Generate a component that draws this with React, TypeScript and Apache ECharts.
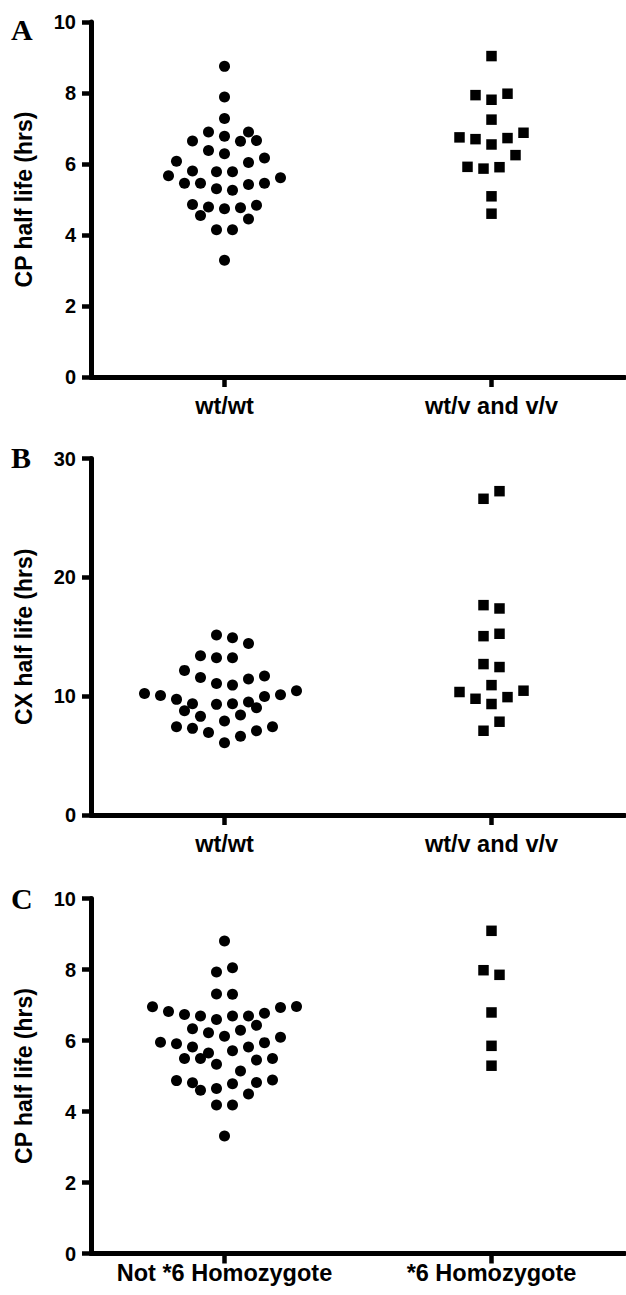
import React, { useEffect, useRef } from "react";
import * as echarts from "echarts";

// ---------- data ----------
const CATS_AB = ["wt/wt", "wt/v and v/v"];
const CATS_C = ["Not *6 Homozygote", "*6 Homozygote"];

// Panel A: CP half life (hrs)
const A_WT = [8.75, 7.89, 7.28, 6.9, 6.9, 6.65, 6.78, 6.64, 6.66, 6.38, 6.29, 6.08, 6.17, 6.04, 5.67, 5.8, 5.78, 5.78, 5.61, 5.46, 5.46, 5.3, 5.26, 5.42, 5.46, 4.86, 4.79, 4.74, 4.77, 4.84, 4.55, 4.45, 4.15, 4.15, 3.29];
const A_WT_SLOT = [0, 0, 0, -2, 3, -4, 0, 2, 4, -2, 0, -6, 5, 3, -7, -4, -1, 1, 7, -5, -3, -1, 1, 3, 5, -4, -2, 0, 2, 4, -3, 3, -1, 1, 0];
const A_V = [9.04, 7.94, 7.81, 7.98, 7.25, 6.75, 6.7, 6.55, 6.73, 6.88, 6.25, 5.92, 5.87, 5.91, 5.09, 4.6];
const A_V_SLOT = [0, -2, 0, 2, 0, -4, -2, 0, 2, 4, 3, -3, -1, 1, 0, 0];

// Panel B: CX half life (hrs)
const B_WT = [15.14, 14.92, 14.44, 13.4, 13.23, 13.23, 12.17, 11.58, 11.07, 10.93, 11.44, 11.69, 10.23, 10.06, 9.73, 9.36, 9.31, 9.36, 9.5, 9.98, 10.12, 10.46, 8.77, 8.3, 7.91, 8.41, 9.03, 7.43, 7.29, 6.95, 7.09, 7.43, 6.08, 6.62];
const B_WT_SLOT = [-1, 1, 3, -3, -1, 1, -5, -3, -1, 1, 3, 5, -10, -8, -6, -4, -1, 1, 3, 5, 7, 9, -5, -3, 0, 2, 4, -6, -4, -2, 4, 6, 0, 2];
const B_V = [26.61, 27.25, 17.66, 17.38, 15.05, 15.25, 12.7, 12.45, 10.93, 10.35, 9.78, 9.34, 9.92, 10.46, 7.09, 7.85];
const B_V_SLOT = [-1, 1, -1, 1, -1, 1, -1, 1, 0, -4, -2, 0, 2, 4, -1, 1];

// Panel C: CP half life (hrs) by *6 genotype
const C_NOT = [8.8, 7.93, 8.05, 7.31, 7.3, 6.95, 6.82, 6.73, 6.69, 6.59, 6.69, 6.69, 6.77, 6.93, 6.96, 6.33, 6.22, 6.12, 6.29, 6.43, 5.95, 5.91, 5.82, 5.65, 5.71, 5.82, 5.94, 6.09, 5.49, 5.49, 5.33, 5.14, 5.45, 5.49, 4.87, 4.81, 4.6, 4.65, 4.78, 4.82, 4.89, 4.49, 4.18, 4.18, 3.31];
const C_NOT_SLOT = [0, -1, 1, -1, 1, -9, -7, -5, -3, -1, 1, 3, 5, 7, 9, -4, -2, 0, 2, 4, -8, -6, -4, -2, 1, 3, 5, 7, -5, -3, -1, 2, 4, 6, -6, -4, -3, -1, 1, 4, 6, 3, -1, 1, 0];
const C_HOM = [9.09, 7.98, 7.85, 6.79, 5.85, 5.29];
const C_HOM_SLOT = [0, -1, 1, 0, 0, 0];

const Y_TICKS_CP = { max: 10, interval: 2 };
const Y_TICKS_CX = { max: 30, interval: 10 };

// ---------- layout ----------
const W = 626;
const H = 1295;
const GRID_LEFT = 91;
const GRID_WIDTH = 534;
const X_MAX = 4; // hidden value axis: categories sit at 1 and 3
const SLOT_PX = 8;
const SLOT = (SLOT_PX * X_MAX) / GRID_WIDTH;
const SANS = "'Liberation Sans', Arial, sans-serif";
const SERIF = "'Liberation Serif', 'Times New Roman', serif";
const AXIS_W = 5;

const panels = [
  { letter: "A", top: 22, height: 355, yt: Y_TICKS_CP, yName: "CP half life (hrs)", cats: CATS_AB, labelMargin: 17, letterY: 30,
    groups: [[A_WT, A_WT_SLOT], [A_V, A_V_SLOT]] },
  { letter: "B", top: 458.5, height: 356.5, yt: Y_TICKS_CX, yName: "CX half life (hrs)", cats: CATS_AB, labelMargin: 17, letterY: 458,
    groups: [[B_WT, B_WT_SLOT], [B_V, B_V_SLOT]] },
  { letter: "C", top: 898.5, height: 355, yt: Y_TICKS_CP, yName: "CP half life (hrs)", cats: CATS_C, labelMargin: 7, letterY: 899,
    groups: [[C_NOT, C_NOT_SLOT], [C_HOM, C_HOM_SLOT]] },
];

export default function App() {
  const ref = useRef<HTMLDivElement>(null);
  useEffect(() => {
    if (!ref.current) return;
    const chart = echarts.init(ref.current, null, { renderer: "svg" });
    const grid: any[] = [];
    const xAxis: any[] = [];
    const yAxis: any[] = [];
    const series: any[] = [];
    const graphic: any[] = [];
    panels.forEach((p, i) => {
      grid.push({ left: GRID_LEFT, width: GRID_WIDTH, top: p.top, height: p.height, containLabel: false });
      xAxis.push({
        type: "category", gridIndex: i, data: p.cats, boundaryGap: true, position: "bottom",
        axisLine: { show: true, lineStyle: { color: "#000", width: AXIS_W } },
        axisTick: { show: true, alignWithLabel: true, length: 10, lineStyle: { color: "#000", width: 4.5 } },
        axisLabel: { interval: 0, color: "#000", fontSize: 23.5, fontWeight: "bold", fontFamily: SANS, margin: p.labelMargin },
        splitLine: { show: false },
      });
      xAxis.push({ type: "value", gridIndex: i, min: 0, max: X_MAX, show: false });
      yAxis.push({
        type: "value", gridIndex: i, min: 0, max: p.yt.max, interval: p.yt.interval,
        name: p.yName, nameLocation: "middle", nameGap: 56,
        nameTextStyle: { color: "#000", fontSize: 23, fontWeight: "bold", fontFamily: SANS },
        axisLine: { show: true, lineStyle: { color: "#000", width: AXIS_W } },
        axisTick: { show: true, length: 9, lineStyle: { color: "#000", width: 4.5 } },
        axisLabel: { color: "#000", fontSize: 20, fontWeight: "bold", fontFamily: SANS, margin: 15 },
        splitLine: { show: false },
      });
      p.groups.forEach(([vals, slots], g) => {
        const center = g === 0 ? 1 : 3;
        series.push({
          type: "scatter", xAxisIndex: i * 2 + 1, yAxisIndex: i,
          symbol: g === 0 ? "circle" : "rect", symbolSize: g === 0 ? 11 : 10.5,
          itemStyle: { color: "#000", opacity: 1 },
          data: vals.map((v, k) => [center + slots[k] * SLOT, v]),
        });
      });
      graphic.push({
        type: "text", left: 11, top: p.letterY - 16,
        style: { text: p.letter, fill: "#000", font: `bold 30px ${SERIF}` },
      });
    });
    chart.setOption({ animation: false, backgroundColor: "#fff", grid, xAxis, yAxis, series, graphic });
    return () => chart.dispose();
  }, []);
  return <div ref={ref} style={{ position: "absolute", left: 0, top: 0, width: W, height: H }} />;
}
